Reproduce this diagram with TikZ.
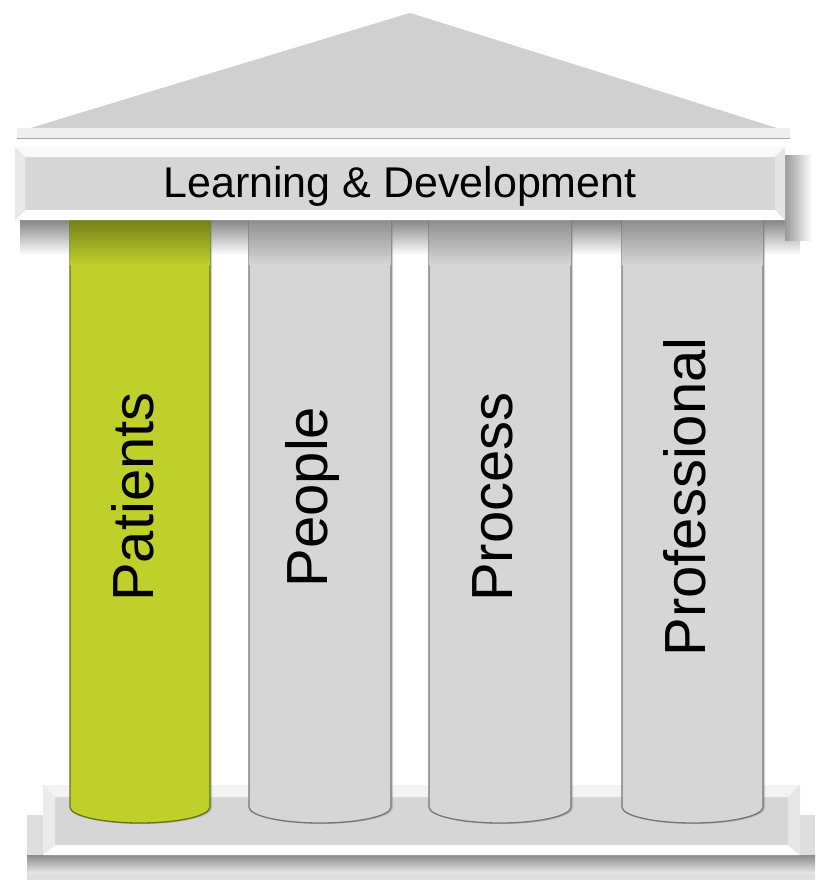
\documentclass[tikz,border=0pt]{standalone}
\usepackage{fontspec}
\setmainfont{Liberation Sans}
\usetikzlibrary{positioning,shadows}
\definecolor{stoneg}{HTML}{D7D6D7}
\definecolor{lime}{HTML}{BFD02A}

\begin{document}
\begin{tikzpicture}[x=1pt, y=1pt,
  pillar/.style = {fill=#1, draw=#1!55!black, line width=1.3pt,
    drop shadow={shadow xshift=2pt, shadow yshift=-1pt, opacity=.35}},
  word/.style = {rotate=90, font=\fontsize{58}{58}\selectfont},
  title/.style = {font=\fontsize{43}{43}\selectfont}]
\useasboundingbox (0,0) rectangle (815,-884);

\fill[stoneg!80!white] (27,-815) rectangle (815,-880);
\shade[top color=black!45, bottom color=stoneg!60!white] (27,-855) rectangle (815,-873);
\fill[stoneg] (43,-785) rectangle (800,-855);
\fill[white!70!stoneg] (43,-785) -- (800,-785) -- (788,-797) -- (55,-797) -- cycle;
\fill[white] (43,-855) -- (800,-855) -- (788,-845) -- (55,-845) -- cycle;
\fill[white!50!stoneg] (43,-785) -- (55,-797) -- (55,-845) -- (43,-855) -- cycle;
\fill[white!40!stoneg] (800,-785) -- (788,-797) -- (788,-845) -- (800,-855) -- cycle;

\shade[top color=black!50, bottom color=white] (20,-218) rectangle (800,-255);
\shade[left color=black!40, right color=white] (785,-155) rectangle (812,-240);

\draw[pillar=lime] (70,-215) -- (70,-807) arc[start angle=180, end angle=360, x radius=70, y radius=16] -- (210,-215) -- cycle;
\draw[pillar=stoneg] (249,-215) -- (249,-807) arc[start angle=180, end angle=360, x radius=71, y radius=16] -- (391,-215) -- cycle;
\draw[pillar=stoneg] (429,-215) -- (429,-807) arc[start angle=180, end angle=360, x radius=71, y radius=16] -- (571,-215) -- cycle;
\draw[pillar=stoneg] (622,-215) -- (622,-807) arc[start angle=180, end angle=360, x radius=70.5, y radius=16] -- (763,-215) -- cycle;
\shade[top color=lime!60!black, bottom color=lime] (70.7,-218) rectangle (209.3,-265);
\shade[top color=stoneg!65!black, bottom color=stoneg] (249.7,-218) rectangle (390.3,-265);
\shade[top color=stoneg!65!black, bottom color=stoneg] (429.7,-218) rectangle (570.3,-265);
\shade[top color=stoneg!65!black, bottom color=stoneg] (622.7,-218) rectangle (762.3,-265);

\fill[stoneg] (15,-147) rectangle (785,-220);
\fill[white!85!stoneg] (15,-147) -- (785,-147) -- (775,-157) -- (25,-157) -- cycle;
\fill[white] (15,-220) -- (785,-220) -- (775,-210) -- (25,-210) -- cycle;
\fill[white!45!stoneg] (15,-147) -- (25,-157) -- (25,-210) -- (15,-220) -- cycle;
\fill[white!35!stoneg] (785,-147) -- (775,-157) -- (775,-210) -- (785,-220) -- cycle;

\fill[stoneg!97!black] (17,-132) -- (410,-12) -- (790,-132) -- cycle;
\draw[white, line width=1.5pt] (17,-131) -- (410,-12) -- (790,-131);
\fill[white!60!stoneg] (17,-128) rectangle (790,-138);
\draw[black!35] (17,-138) -- (790,-138);

\node[title] (0) at (400,-186) {Learning \& Development};
\node[word] (1) at (133,-497) {Patients};
\node[word] (2) at (313,-497) {People};
\node[word] (3) at (493,-497) {Process};
\node[word] (4) at (685,-497) {Professional};
\end{tikzpicture}
\end{document}
